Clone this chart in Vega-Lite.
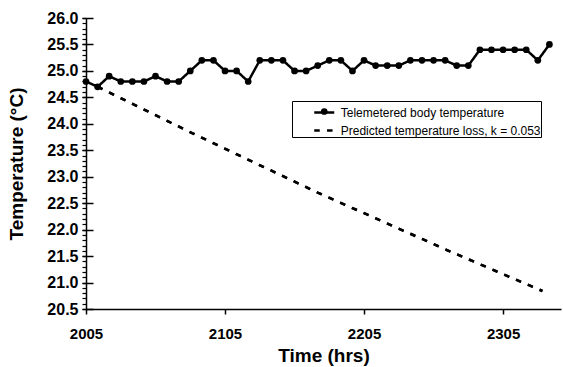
{
  "$schema": "https://vega.github.io/schema/vega-lite/v6.json",
  "width": 475,
  "height": 291,
  "autosize": "none",
  "padding": {"left": 86, "top": 18, "right": 2, "bottom": 58},
  "background": "white",
  "config": {
    "font": "Liberation Sans",
    "view": {"stroke": null},
    "axis": {"grid": false, "domainColor": "black", "tickColor": "black", "labelColor": "black", "titleColor": "black", "domainWidth": 1.5, "tickWidth": 1.5}
  },
  "data": {
    "values": [
      {"t": 0, "temp": 24.8, "series": "Telemetered body temperature"},
      {"t": 5, "temp": 24.7, "series": "Telemetered body temperature"},
      {"t": 10, "temp": 24.9, "series": "Telemetered body temperature"},
      {"t": 15, "temp": 24.8, "series": "Telemetered body temperature"},
      {"t": 20, "temp": 24.8, "series": "Telemetered body temperature"},
      {"t": 25, "temp": 24.8, "series": "Telemetered body temperature"},
      {"t": 30, "temp": 24.9, "series": "Telemetered body temperature"},
      {"t": 35, "temp": 24.8, "series": "Telemetered body temperature"},
      {"t": 40, "temp": 24.8, "series": "Telemetered body temperature"},
      {"t": 45, "temp": 25.0, "series": "Telemetered body temperature"},
      {"t": 50, "temp": 25.2, "series": "Telemetered body temperature"},
      {"t": 55, "temp": 25.2, "series": "Telemetered body temperature"},
      {"t": 60, "temp": 25.0, "series": "Telemetered body temperature"},
      {"t": 65, "temp": 25.0, "series": "Telemetered body temperature"},
      {"t": 70, "temp": 24.8, "series": "Telemetered body temperature"},
      {"t": 75, "temp": 25.2, "series": "Telemetered body temperature"},
      {"t": 80, "temp": 25.2, "series": "Telemetered body temperature"},
      {"t": 85, "temp": 25.2, "series": "Telemetered body temperature"},
      {"t": 90, "temp": 25.0, "series": "Telemetered body temperature"},
      {"t": 95, "temp": 25.0, "series": "Telemetered body temperature"},
      {"t": 100, "temp": 25.1, "series": "Telemetered body temperature"},
      {"t": 105, "temp": 25.2, "series": "Telemetered body temperature"},
      {"t": 110, "temp": 25.2, "series": "Telemetered body temperature"},
      {"t": 115, "temp": 25.0, "series": "Telemetered body temperature"},
      {"t": 120, "temp": 25.2, "series": "Telemetered body temperature"},
      {"t": 125, "temp": 25.1, "series": "Telemetered body temperature"},
      {"t": 130, "temp": 25.1, "series": "Telemetered body temperature"},
      {"t": 135, "temp": 25.1, "series": "Telemetered body temperature"},
      {"t": 140, "temp": 25.2, "series": "Telemetered body temperature"},
      {"t": 145, "temp": 25.2, "series": "Telemetered body temperature"},
      {"t": 150, "temp": 25.2, "series": "Telemetered body temperature"},
      {"t": 155, "temp": 25.2, "series": "Telemetered body temperature"},
      {"t": 160, "temp": 25.1, "series": "Telemetered body temperature"},
      {"t": 165, "temp": 25.1, "series": "Telemetered body temperature"},
      {"t": 170, "temp": 25.4, "series": "Telemetered body temperature"},
      {"t": 175, "temp": 25.4, "series": "Telemetered body temperature"},
      {"t": 180, "temp": 25.4, "series": "Telemetered body temperature"},
      {"t": 185, "temp": 25.4, "series": "Telemetered body temperature"},
      {"t": 190, "temp": 25.4, "series": "Telemetered body temperature"},
      {"t": 195, "temp": 25.2, "series": "Telemetered body temperature"},
      {"t": 200, "temp": 25.5, "series": "Telemetered body temperature"},
      {"t": 5, "temp": 24.70, "series": "Predicted temperature loss, k = 0.053"},
      {"t": 46, "temp": 23.82, "series": "Predicted temperature loss, k = 0.053"},
      {"t": 100, "temp": 22.70, "series": "Predicted temperature loss, k = 0.053"},
      {"t": 156, "temp": 21.61, "series": "Predicted temperature loss, k = 0.053"},
      {"t": 197, "temp": 20.84, "series": "Predicted temperature loss, k = 0.053"}
    ]
  },
  "encoding": {
    "x": {
      "field": "t",
      "type": "quantitative",
      "scale": {"domain": [0, 205], "nice": false, "zero": false},
      "axis": {
        "values": [0, 60, 120, 180],
        "labelExpr": "format(2005 + datum.value / 60 * 100, 'd')",
        "labelFlush": false,
        "title": "Time (hrs)",
        "tickSize": 5,
        "labelFontSize": 15,
        "labelFontWeight": "bold",
        "labelPadding": 12,
        "titleFontSize": 19,
        "titleFontWeight": "bold",
        "titlePadding": 5
      }
    }
  },
  "layer": [
    {
      "mark": {"type": "line", "color": "black", "strokeWidth": 2.5},
      "encoding": {
        "y": {
          "field": "temp",
          "type": "quantitative",
          "scale": {"domain": [20.5, 26.0], "nice": false, "zero": false},
          "axis": {
            "orient": "left",
            "values": [20.5, 21, 21.5, 22, 22.5, 23, 23.5, 24, 24.5, 25, 25.5, 26],
            "format": ".1f",
            "title": "Temperature (°C)",
            "tickSize": 4,
            "labelFontSize": 16,
            "labelFontWeight": "bold",
            "labelPadding": 4,
            "titleFontSize": 19,
            "titleFontWeight": "bold",
            "titlePadding": 20
          }
        },
        "strokeDash": {
          "field": "series",
          "type": "nominal",
          "scale": {
            "domain": ["Telemetered body temperature", "Predicted temperature loss, k = 0.053"],
            "range": [[1, 0], [5.5, 7.3]]
          },
          "legend": {
            "orient": "none",
            "legendX": 206,
            "legendY": 83,
            "title": null,
            "strokeColor": "black",
            "fillColor": "white",
            "padding": 0,
            "labelFontSize": 12,
            "labelColor": "black",
            "labelLimit": 400,
            "symbolSize": 400,
            "symbolStrokeWidth": 2.5,
            "symbolOffset": 20.75,
            "labelOffset": 5,
            "rowPadding": -4
          }
        }
      }
    },
    {
      "transform": [{"filter": "datum.series !== 'Telemetered body temperature'"}],
      "mark": {"type": "line", "color": "black", "strokeWidth": 2.5, "strokeDash": [5.5, 7.3]},
      "encoding": {
        "y": {
          "field": "temp",
          "type": "quantitative",
          "scale": {"domain": [20.5, 26.0], "nice": false, "zero": false},
          "axis": {
            "orient": "left",
            "values": [20.5, 20.6, 20.7, 20.8, 20.9, 21.0, 21.1, 21.2, 21.3, 21.4, 21.5, 21.6, 21.7, 21.8, 21.9, 22.0, 22.1, 22.2, 22.3, 22.4, 22.5, 22.6, 22.7, 22.8, 22.9, 23.0, 23.1, 23.2, 23.3, 23.4, 23.5, 23.6, 23.7, 23.8, 23.9, 24.0, 24.1, 24.2, 24.3, 24.4, 24.5, 24.6, 24.7, 24.8, 24.9, 25.0, 25.1, 25.2, 25.3, 25.4, 25.5, 25.6, 25.7, 25.8, 25.9, 26.0],
            "labels": false,
            "domain": false,
            "title": null,
            "tickSize": 4,
            "tickWidth": 1.2
          }
        }
      }
    },
    {
      "transform": [{"filter": "datum.series === 'Telemetered body temperature'"}],
      "mark": {"type": "point", "filled": true, "color": "black", "size": 45, "opacity": 1},
      "encoding": {
        "y": {
          "field": "temp",
          "type": "quantitative",
          "scale": {"domain": [20.5, 26.0], "nice": false, "zero": false},
          "axis": {
            "orient": "left",
            "values": [20.5, 21, 21.5, 22, 22.5, 23, 23.5, 24, 24.5, 25, 25.5, 26],
            "labels": false,
            "domain": false,
            "title": null,
            "tickSize": -7
          }
        },
        "shape": {
          "field": "series",
          "type": "nominal",
          "scale": {"domain": ["Telemetered body temperature"], "range": ["circle"]},
          "legend": {
            "orient": "none",
            "legendX": 233.75,
            "legendY": 89,
            "title": null,
            "padding": 0,
            "labelExpr": "''",
            "labelFontSize": 1,
            "symbolSize": 45,
            "symbolOffset": 0
          }
        }
      }
    }
  ],
  "resolve": {"axis": {"y": "independent"}}
}
